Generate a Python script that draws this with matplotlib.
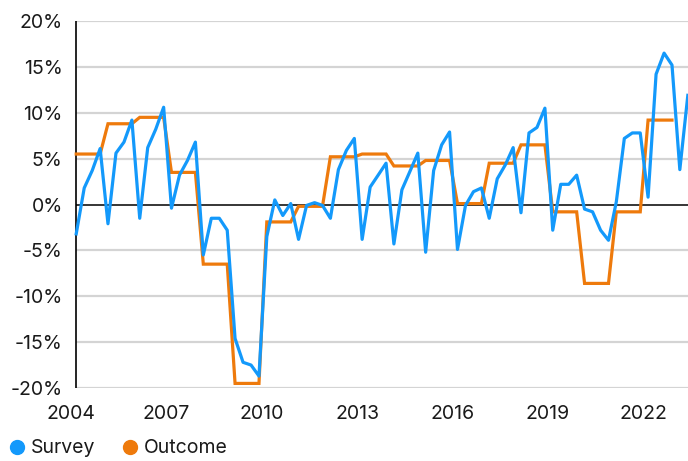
import numpy as np
import pandas as pd
import matplotlib
matplotlib.use("Agg")
import matplotlib.pyplot as plt
from matplotlib.lines import Line2D

plt.rcParams['font.family'] = ['Inter', 'DejaVu Sans']

# quarterly survey balance (%), 2004 Q1 .. 2023 Q2
survey = [-3.2, 1.8, 3.7, 6.1, -2.1, 5.6, 6.8, 9.2, -1.5, 6.2, 8.2, 10.6,
          -0.4, 3.2, 4.8, 6.8, -5.5, -1.5, -1.5, -2.8, -14.6, -17.2, -17.5, -18.7,
          -3.5, 0.5, -1.2, 0.1, -3.8, -0.1, 0.2, -0.1, -1.5, 3.8, 5.9, 7.2,
          -3.8, 1.9, 3.2, 4.5, -4.3, 1.6, 3.6, 5.6, -5.2, 3.7, 6.5, 7.9,
          -4.9, -0.1, 1.4, 1.8, -1.5, 2.8, 4.3, 6.2, -0.9, 7.8, 8.4, 10.5,
          -2.8, 2.2, 2.2, 3.2, -0.5, -0.8, -2.8, -3.9, 0.3, 7.2, 7.8, 7.8,
          0.8, 14.2, 16.5, 15.2, 3.8, 11.9]

# annual outcome (%), 2004 .. 2022
outcome_years = list(range(2004, 2023))
outcome = [5.5, 8.8, 9.5, 3.5, -6.5, -19.5, -1.9, -0.2, 5.2, 5.5,
           4.2, 4.8, 0.1, 4.5, 6.5, -0.8, -8.6, -0.8, 9.2]

tick_years = [2004, 2007, 2010, 2013, 2016, 2019, 2022]
y_ticks = [-20, -15, -10, -5, 0, 5, 10, 15, 20]

blue = '#1399fb'
orange = '#ee7a0c'

dates = pd.date_range('2004-03-01', periods=len(survey), freq='QS-MAR')
# outcome shown against each quarter of its year
outcome_q = np.repeat(outcome, 4)
dates_o = dates[:len(outcome_q)]

fig = plt.figure(figsize=(6.88, 4.61), dpi=100)
ax = fig.add_axes([71 / 688, 1 - 388 / 461, 1 - 71 / 688, (388 - 21) / 461])

xmin = pd.Timestamp('2004-01-01')
xmax = pd.Timestamp('2023-06-03')

for v in y_ticks:
    if v == 0:
        continue
    ax.hlines(v, dates[0], xmax, color='#d4d4d4', lw=1.6, zorder=1)
ax.hlines(0, dates[0], xmax, color='black', lw=1.1, zorder=2)
ax.vlines(dates[0], -20, 20, color='black', lw=1.2, zorder=2)

ax.plot(dates_o, outcome_q, color=orange, lw=2.3, zorder=3, solid_joinstyle='miter')
ax.plot(dates, survey, color=blue, lw=2.3, zorder=4)

ax.set_xlim(xmin, xmax)
ax.set_ylim(-20, 20)
ax.set_yticks(y_ticks)
ax.set_yticklabels([f'{v}%' for v in y_ticks])
ax.set_xticks([pd.Timestamp(f'{y}-01-01') for y in tick_years])
ax.set_xticklabels([str(y) for y in tick_years])
ax.tick_params(axis='both', length=0, labelsize=14, colors='#1a1a1a')
ax.tick_params(axis='y', pad=6)
ax.tick_params(axis='x', pad=12)
for s in ax.spines.values():
    s.set_visible(False)

handles = [Line2D([], [], ls='none', marker='o', markersize=10, color=blue),
           Line2D([], [], ls='none', marker='o', markersize=10, color=orange)]
fig.legend(handles, ['Survey', 'Outcome'], loc='lower left', bbox_to_anchor=(-0.018, -0.03),
           ncol=2, frameon=False, fontsize=14, handletextpad=0.1, columnspacing=1.2,
           handlelength=1.2, labelcolor='#1a1a1a')

fig.savefig('out.png', dpi=100)
